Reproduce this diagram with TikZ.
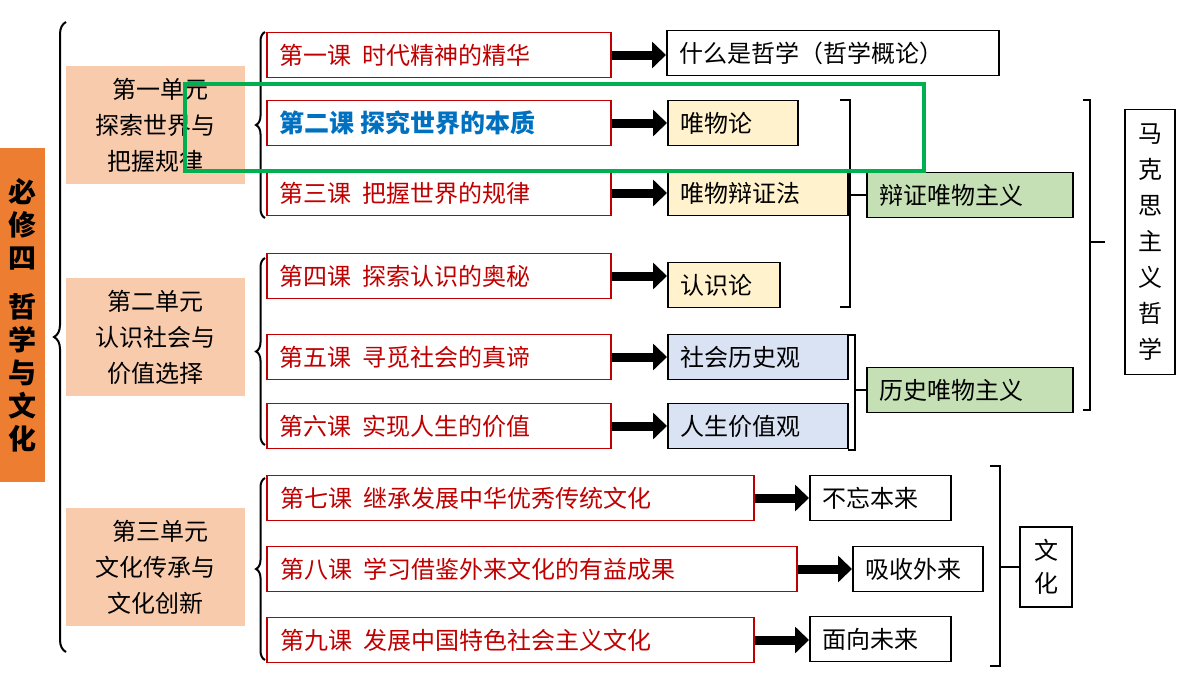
\documentclass[tikz,border=0pt]{standalone}
\usepackage{fontspec}
\setmainfont{Noto Sans CJK SC}
\usetikzlibrary{arrows.meta}
\usetikzlibrary{decorations.pathreplacing}
\definecolor{unitfill}{HTML}{F8CBAD}
\definecolor{mainfill}{HTML}{ED7D31}
\definecolor{lessonred}{HTML}{C00000}
\definecolor{yellowfill}{HTML}{FFF2CC}
\definecolor{bluefill}{HTML}{DAE3F3}
\definecolor{greenfill}{HTML}{C5E0B4}
\definecolor{hilite}{HTML}{00B050}
\definecolor{blueText}{HTML}{0070C0}
\tikzset{
    unitbox/.style={fill=unitfill,minimum width=179pt,minimum height=118pt,align=center,font=\fontsize{24}{36}\selectfont},
    lesson/.style={draw=lessonred,line width=1.5pt,text=lessonred,minimum height=45pt,anchor=west,inner sep=0pt,align=left,font=\fontsize{24}{26}\selectfont},
    topic/.style={draw,line width=1.5pt,minimum height=45pt,anchor=west,inner sep=0pt,align=left,font=\fontsize{24}{26}\selectfont},
    fatarrow/.style={line width=9pt,-{Triangle[length=14pt,width=26pt]}},
    curly/.style={decorate,decoration={brace,amplitude=9pt},line width=2pt},
    bracket/.style={line width=1.5pt},
}
\newcommand{\padtext}[2]{\hspace*{12pt}\parbox{#1}{#2}}
\begin{document}
\begin{tikzpicture}[x=1pt,y=-1pt]
\useasboundingbox (0,0) rectangle (1200,675);
% left title
\node[fill=mainfill,minimum width=45pt,minimum height=334pt,align=center,font=\fontsize{28}{33}\selectfont\bfseries] (book) at (22.5,315) {必\\修\\四\\[16pt]哲\\学\\与\\文\\化};
\draw[curly,decoration={amplitude=12pt}] (66,652) -- (66,22);
% units
\node[unitbox] (unitA) at (155.5,125) {\ \ 第一单元\\探索世界与\\把握规律};
\node[unitbox] (unitB) at (155.5,337) {第二单元\\认识社会与\\价值选择};
\node[unitbox] (unitC) at (155.5,567) {\ \ 第三单元\\文化传承与\\文化创新};
\draw[curly] (265,218) -- (265,32);
\draw[curly] (265,445) -- (265,258);
\draw[curly] (265,660) -- (265,478);
% lessons
\node[lesson,minimum width=344pt] (lesA) at (266,55) {\padtext{330pt}{第一课\ \ 时代精神的精华}};
\node[lesson,minimum width=344pt,text=blueText,font=\fontsize{25}{26}\selectfont\bfseries] (lesB) at (266,123) {\padtext{330pt}{第二课 探究世界的本质}};
\node[lesson,minimum width=344pt] (lesC) at (266,193) {\padtext{330pt}{第三课\ \ 把握世界的规律}};
\node[lesson,minimum width=344pt] (lesD) at (266,276) {\padtext{330pt}{第四课\ \ 探索认识的奥秘}};
\node[lesson,minimum width=344pt] (lesE) at (266,357) {\padtext{330pt}{第五课\ \ 寻觅社会的真谛}};
\node[lesson,minimum width=344pt] (lesF) at (266,426) {\padtext{330pt}{第六课\ \ 实现人生的价值}};
\node[lesson,minimum width=487pt] (lesG) at (266,498) {\padtext{472pt}{第七课\ \ 继承发展中华优秀传统文化}};
\node[lesson,minimum width=530pt] (lesH) at (266,569) {\padtext{515pt}{第八课\ \ 学习借鉴外来文化的有益成果}};
\node[lesson,minimum width=487pt] (lesI) at (266,640) {\padtext{472pt}{第九课\ \ 发展中国特色社会主义文化}};
% topics
\node[topic,minimum width=332pt] (topA) at (666,53) {\padtext{318pt}{什么是哲学（哲学概论）}};
\node[topic,fill=yellowfill,minimum width=130pt] (topB) at (667,123) {\padtext{116pt}{唯物论}};
\node[topic,fill=yellowfill,minimum width=180pt] (topC) at (667,193) {\padtext{166pt}{唯物辩证法}};
\node[topic,fill=yellowfill,minimum width=112pt] (topD) at (667,285) {\padtext{98pt}{认识论}};
\node[topic,fill=bluefill,minimum width=180pt] (topE) at (667,357) {\padtext{166pt}{社会历史观}};
\node[topic,fill=bluefill,minimum width=180pt] (topF) at (667,426) {\padtext{166pt}{人生价值观}};
\node[topic,minimum width=141pt] (topG) at (809,498) {\padtext{127pt}{不忘本来}};
\node[topic,minimum width=130pt] (topH) at (852,569) {\padtext{116pt}{吸收外来}};
\node[topic,minimum width=141pt] (topI) at (809,639) {\padtext{127pt}{面向未来}};
\foreach \a in {A,B,C,D,E,F,G,H,I}
    \draw[fatarrow] (les\a.east) -- (les\a.east -| top\a.west);
% groups
\node[topic,fill=greenfill,minimum width=206pt] (dialect) at (866,195) {\padtext{192pt}{辩证唯物主义}};
\node[topic,fill=greenfill,minimum width=206pt] (histmat) at (866,390) {\padtext{192pt}{历史唯物主义}};
\node[draw,line width=1.5pt,minimum width=50pt,minimum height=265pt,align=center,font=\fontsize{24}{36}\selectfont] (marx) at (1150,242) {马\\克\\思\\主\\义\\哲\\学};
\node[draw,line width=1.5pt,minimum width=52pt,minimum height=80pt,align=center,font=\fontsize{24}{33}\selectfont] (culture) at (1046,567) {文\\化};
\draw[bracket] (840,100) -- (850,100) -- (850,307) -- (840,307) (850,195) -- (dialect.west);
\draw[bracket] (848,335) -- (855,335) -- (855,450) -- (848,450) (855,390) -- (histmat.west);
\draw[bracket] (1083,100) -- (1090,100) -- (1090,410) -- (1083,410) (1090,242) -- (1105,242);
\draw[bracket] (990,466) -- (1000,466) -- (1000,666) -- (990,666) (1000,567) -- (culture.west);
% highlight
\draw[hilite,line width=4pt] (185,84) rectangle (924,171);
\end{tikzpicture}
\end{document}
